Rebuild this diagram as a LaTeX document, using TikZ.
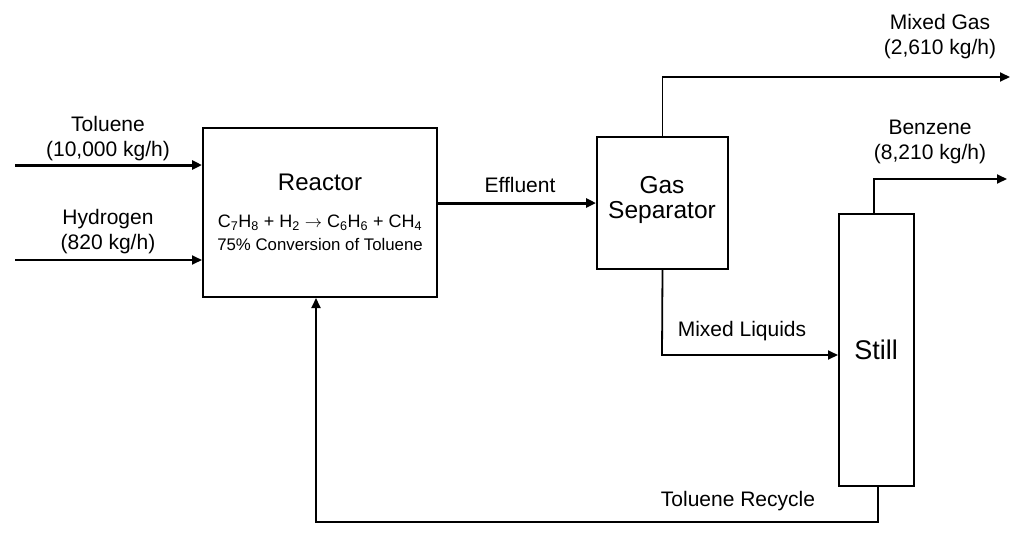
\documentclass[tikz,border=0pt]{standalone}
\usepackage{fontspec}
\setmainfont{Liberation Sans}
\usetikzlibrary{arrows.meta}
\begin{document}
\begin{tikzpicture}[x=1pt,y=-1pt,
  unitbox/.style={draw,line width=2pt,inner sep=0pt},
  lbl/.style={font=\fontsize{21}{25}\selectfont,align=center,inner sep=0pt},
  big/.style={font=\fontsize{24}{28}\selectfont,align=center,inner sep=0pt},
  flow/.style={line width=1.8pt,-{Triangle[length=10pt,width=9pt]}},
  thickflow/.style={line width=3pt,-{Triangle[length=10pt,width=9pt]}}]
\useasboundingbox (0,0) rectangle (1028,544);
% units
\node[unitbox,minimum width=234pt,minimum height=169pt] (reactor) at (320,212.5) {};
\node[unitbox,minimum width=131pt,minimum height=132pt] (sep) at (662.5,203) {};
\node[unitbox,minimum width=75pt,minimum height=272pt] (still) at (876.5,350) {};
% unit texts
\node[big] (reactortxt) at (320,182) {Reactor};
\node[font=\fontsize{18}{20}\selectfont,inner sep=0pt] (formula) at (320,223) {C\textsubscript{7}H\textsubscript{8} + H\textsubscript{2} $\boldmath\rightarrow$ C\textsubscript{6}H\textsubscript{6} + CH\textsubscript{4}};
\node[font=\fontsize{16.8}{19}\selectfont,inner sep=0pt] (conv) at (320,244) {75\% Conversion of Toluene};
\node[big,font=\fontsize{24.5}{25}\selectfont] (septxt) at (662,200) {Gas\\Separator};
\node[big,font=\fontsize{27}{28}\selectfont] (stilltxt) at (876,350) {Still};
% coordinates
\coordinate (tolin) at (15,165);
\coordinate (h2in) at (15,260);
\coordinate (gasout) at (1010,77);
\coordinate (benzout) at (1007,179);
\coordinate (recy) at (316,522);
% feeds
\draw[thickflow] (tolin) -- (tolin -| reactor.west);
\draw[flow] (h2in) -- (h2in -| reactor.west);
\node[lbl] (tollbl) at (108,139) {Toluene\\(10,000 kg/h)};
\node[lbl] (h2lbl) at (108,232) {Hydrogen\\(820 kg/h)};
% effluent
\draw[thickflow] (reactor.east |- 0,203) -- (sep.west |- 0,203);
\node[lbl] (efflbl) at (520,185) {Effluent};
% mixed gas
\draw[flow] (sep.north) -- (sep.north |- gasout) -- (gasout);
\node[lbl] (gaslbl) at (940,37) {Mixed Gas\\(2,610 kg/h)};
% mixed liquids
\draw[flow] (sep.south) -- (662,355) -- (still.west |- 0,355);
\node[lbl] (liqlbl) at (742,331) {Mixed Liquids};
% benzene
\draw[flow] (still.north -| 874,0) -- (874,179) -- (benzout);
\node[lbl] (benzlbl) at (930,142) {Benzene\\(8,210 kg/h)};
% recycle
\draw[flow] (still.south -| 878,0) -- (878,522) -- (recy) -- (recy |- reactor.south);
\node[lbl] (recylbl) at (738,501) {Toluene Recycle};
\end{tikzpicture}
\end{document}
